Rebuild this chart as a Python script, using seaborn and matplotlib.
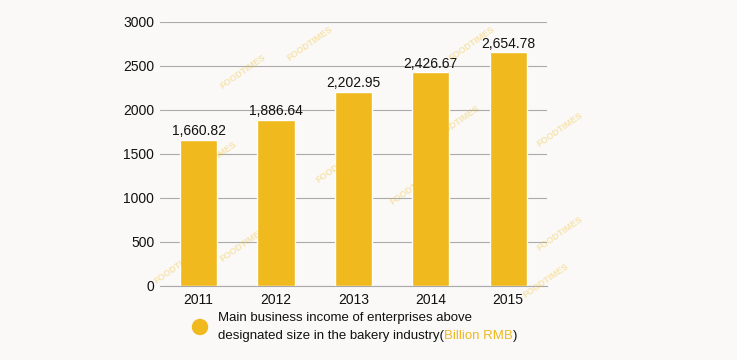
import matplotlib
matplotlib.use('Agg')
import matplotlib.pyplot as plt
import seaborn as sns
import pandas as pd
from matplotlib.patches import Ellipse

years = ['2011', '2012', '2013', '2014', '2015']
income = [1660.82, 1886.64, 2202.95, 2426.67, 2654.78]
value_labels = ['1,660.82', '1,886.64', '2,202.95', '2,426.67', '2,654.78']
y_ticks = [0, 500, 1000, 1500, 2000, 2500, 3000]
legend_line1 = 'Main business income of enterprises above'
legend_line2 = 'designated size in the bakery industry('
legend_unit = 'Billion RMB'

bar_color = '#f0b91e'
bg = '#faf9f7'

sns.set_style('white')
plt.rcParams['font.family'] = ['Liberation Sans', 'DejaVu Sans']

df = pd.DataFrame({'year': years, 'income': income})

fig = plt.figure(figsize=(7.37, 3.6), dpi=100, facecolor=bg)
ax = fig.add_axes([0.217, 0.206, 0.525, 0.733])
ax.set_facecolor(bg)

# faint watermarks
wm = [(0.33, 0.80), (0.42, 0.88), (0.64, 0.88), (0.29, 0.56), (0.46, 0.54),
      (0.56, 0.48), (0.62, 0.66), (0.76, 0.64), (0.76, 0.35), (0.24, 0.26),
      (0.74, 0.22), (0.33, 0.32)]
for x, y in wm:
    fig.text(x, y, 'FOODTIMES', rotation=35, color=bar_color, alpha=0.35,
             fontsize=6.5, fontweight='bold', ha='center', va='center', zorder=0)

sns.barplot(data=df, x='year', y='income', color=bar_color, width=0.48,
            saturation=1, ax=ax, zorder=3)

for i, v in enumerate(income):
    ax.text(i, v + 20, value_labels[i], ha='center', va='bottom', fontsize=10,
            color='#111111', zorder=4)

ax.set_ylim(0, 3000)
ax.set_yticks(y_ticks)
ax.set_yticklabels([str(t) for t in y_ticks])
ax.yaxis.grid(True, color='#aaaaaa', linewidth=0.8)
ax.set_axisbelow(True)
for s in ['left', 'right', 'top']:
    ax.spines[s].set_visible(False)
ax.spines['bottom'].set_color('#aaaaaa')
ax.spines['bottom'].set_linewidth(0.8)
ax.tick_params(axis='both', length=0, labelsize=10, colors='#111111')
ax.tick_params(axis='y', pad=4)
ax.tick_params(axis='x', pad=5)
ax.set_xlabel('')
ax.set_ylabel('')

# legend
fig.patches.append(Ellipse((200 / 737, 1 - 327 / 360), 15 / 737, 15 / 360,
                           transform=fig.transFigure, color=bar_color))

tx = 218 / 737
fig.text(tx, 1 - 318 / 360, legend_line1, fontsize=9.5, va='center',
         color='#111111')
t2 = fig.text(tx, 1 - 336 / 360, legend_line2, fontsize=9.5, va='center',
              color='#111111')
fig.canvas.draw()
r = fig.canvas.get_renderer()
bb = t2.get_window_extent(r)
t3 = fig.text(bb.x1 / fig.bbox.width, 1 - 336 / 360, legend_unit,
              fontsize=9.5, va='center', color=bar_color)
fig.canvas.draw()
bb3 = t3.get_window_extent(r)
fig.text(bb3.x1 / fig.bbox.width, 1 - 336 / 360, ')', fontsize=9.5,
         va='center', color='#111111')

fig.savefig('out.png', dpi=100, facecolor=bg)
